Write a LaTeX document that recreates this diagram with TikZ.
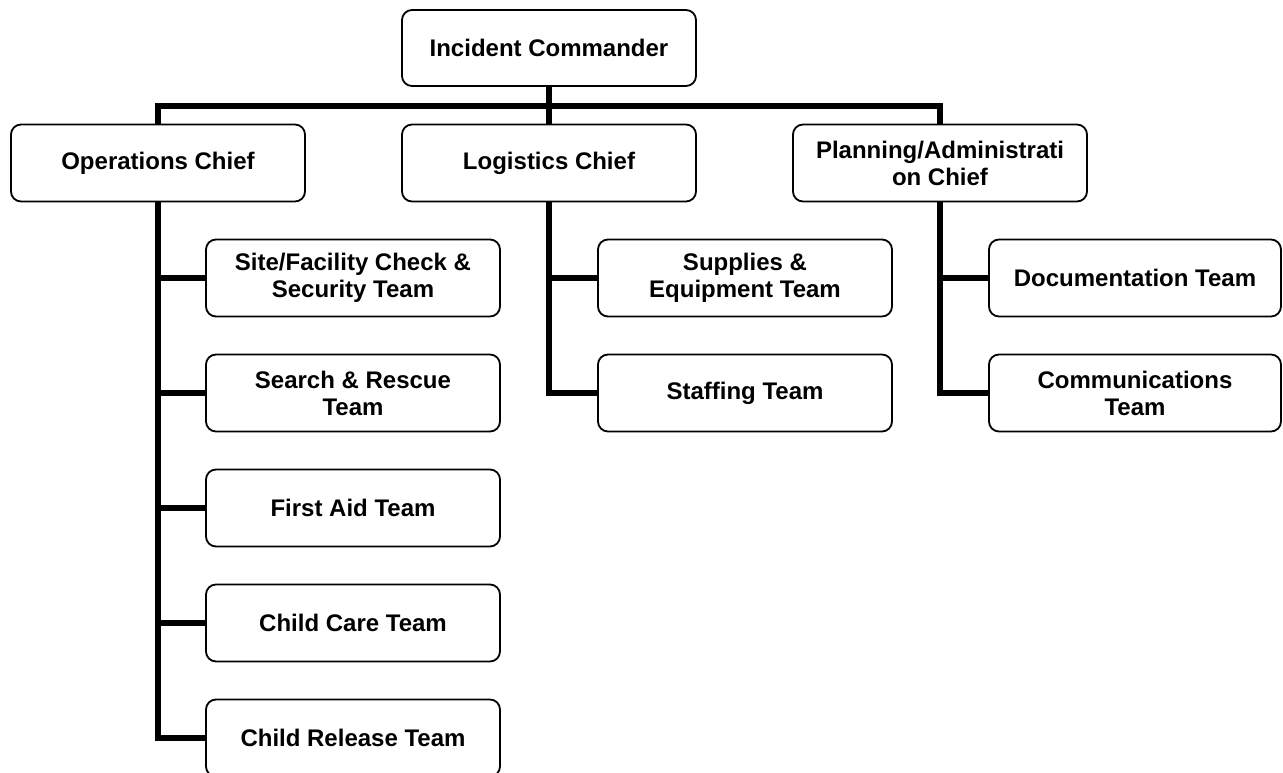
\documentclass[tikz,border=0pt]{standalone}
\usepackage{fontspec}
\setmainfont{Liberation Sans}
\begin{document}
\begin{tikzpicture}[x={(1pt,0)}, y={(0,-1pt)},
  box/.style={draw, line width=1.8pt, rounded corners=10pt, fill=white,
    minimum width=294pt, minimum height=77pt, inner sep=0pt,
    align=center, font=\fontsize{24pt}{27pt}\selectfont\bfseries},
  conn/.style={line width=6pt, line join=miter}]
\useasboundingbox (0,0) rectangle (1283,773);

% command and section chiefs
\node[box, minimum height=76pt] (ic) at (549,48) {Incident Commander};
\node[box] (ops)  at (158,163) {Operations Chief};
\node[box] (log)  at (549,163) {Logistics Chief};
\node[box] (plan) at (940,163) {Planning/Administrati\\on Chief};
\coordinate (bar) at (549,106);

% operations teams
\node[box] (site)   at (353,278) {Site/Facility Check \&\\Security Team};
\node[box] (sar)    at (353,393) {Search \& Rescue\\Team};
\node[box] (aid)    at (353,508) {First Aid Team};
\node[box] (care)   at (353,623) {Child Care Team};
\node[box] (rel)    at (353,738) {Child Release Team};

% logistics teams
\node[box] (supply) at (745,278) {Supplies \&\\Equipment Team};
\node[box] (staff)  at (745,393) {Staffing Team};

% planning teams
\node[box, minimum width=292pt] (doc)  at (1135,278) {Documentation Team};
\node[box, minimum width=292pt] (comm) at (1135,393) {Communications\\Team};

% connectors
\draw[conn] (ic.south) -- (log.north);
\draw[conn] (ops.north) -- (ops.north |- bar) -- (plan.north |- bar) -- (plan.north);

\draw[conn] (ops.south) |- (rel.west);
\draw[conn] (ops.south |- site.west) -- (site.west);
\draw[conn] (ops.south |- sar.west) -- (sar.west);
\draw[conn] (ops.south |- aid.west) -- (aid.west);
\draw[conn] (ops.south |- care.west) -- (care.west);

\draw[conn] (log.south) |- (staff.west);
\draw[conn] (log.south |- supply.west) -- (supply.west);

\draw[conn] (plan.south) |- (comm.west);
\draw[conn] (plan.south |- doc.west) -- (doc.west);
\end{tikzpicture}
\end{document}
